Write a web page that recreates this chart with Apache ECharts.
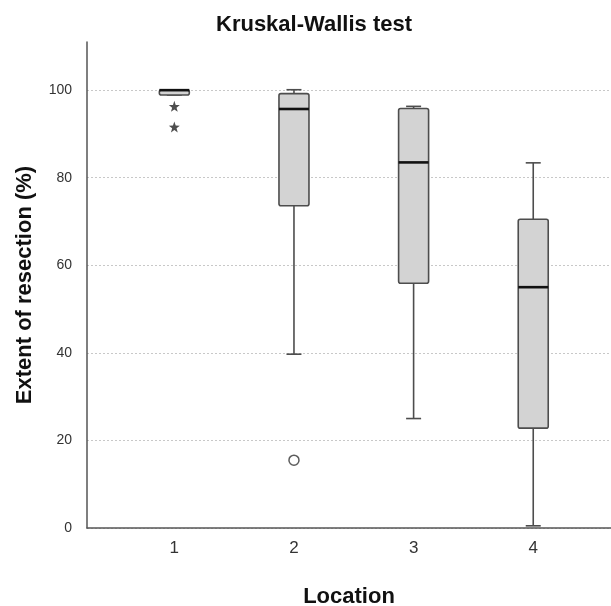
<!DOCTYPE html>
<html>
<head>
<meta charset="utf-8">
<script src="https://cdn.jsdelivr.net/npm/echarts@6/dist/echarts.min.js"></script>
<style>
  html, body { margin: 0; padding: 0; background: #fff; }
  #main { width: 611px; height: 606px; }
</style>
</head>
<body>
<div id="main"></div>
<script>
// box summary per location
const locations = [1, 2, 3, 4];
const whiskerLow = [98.9, 39.7, 25.0, 0.5];
const q1 = [98.9, 73.6, 55.9, 22.8];
const medians = [100, 95.7, 83.5, 55.0];
const q3 = [100, 99.2, 95.8, 70.5];
const whiskerHigh = [100, 100.1, 96.3, 83.4];

// outliers: circle = mild, star = extreme
const mildOutliers = [[2, 15.5]];
const extremeOutliers = [[1, 96.3], [1, 91.6]];

const yTicks = [0, 20, 40, 60, 80, 100];

const boxData = locations.map((loc, i) => [loc, whiskerLow[i], q1[i], medians[i], q3[i], whiskerHigh[i]]);

const starPath = 'path://M0,-10L2.35,-3.24L9.51,-3.09L3.8,1.24L5.88,8.09L0,4L-5.88,8.09L-3.8,1.24L-9.51,-3.09L-2.35,-3.24Z';

var chart = echarts.init(document.getElementById('main'));

function renderBox(params, api) {
    var x = api.value(0);
    var pLow = api.coord([x, api.value(1)]);
    var pQ1 = api.coord([x, api.value(2)]);
    var pMed = api.coord([x, api.value(3)]);
    var pQ3 = api.coord([x, api.value(4)]);
    var pHigh = api.coord([x, api.value(5)]);
    var half = 15, cap = 7.5;
    var lineStyle = { stroke: '#4d4d4d', lineWidth: 1.6, fill: null };
    return {
        type: 'group',
        children: [
            { type: 'line', shape: { x1: pLow[0], y1: pLow[1], x2: pQ1[0], y2: pQ1[1] }, style: lineStyle },
            { type: 'line', shape: { x1: pQ3[0], y1: pQ3[1], x2: pHigh[0], y2: pHigh[1] }, style: lineStyle },
            { type: 'line', shape: { x1: pLow[0] - cap, y1: pLow[1], x2: pLow[0] + cap, y2: pLow[1] }, style: lineStyle },
            { type: 'line', shape: { x1: pHigh[0] - cap, y1: pHigh[1], x2: pHigh[0] + cap, y2: pHigh[1] }, style: lineStyle },
            {
                type: 'rect',
                shape: { x: pQ3[0] - half, y: pQ3[1], width: half * 2, height: Math.max(pQ1[1] - pQ3[1], 1), r: 2 },
                style: { fill: '#d3d3d3', stroke: '#4d4d4d', lineWidth: 1.6 }
            },
            { type: 'line', shape: { x1: pMed[0] - half, y1: pMed[1], x2: pMed[0] + half, y2: pMed[1] }, style: { stroke: '#111', lineWidth: 2.6 } }
        ]
    };
}

var option = {
    animation: false,
    backgroundColor: '#fff',
    textStyle: { fontFamily: 'Liberation Sans, Arial, sans-serif' },
    title: {
        text: 'Kruskal-Wallis test',
        left: 309,
        textAlign: 'center',
        top: 9,
        textStyle: { fontSize: 22, fontWeight: 'bold', color: '#111', fontFamily: 'Liberation Sans, Arial, sans-serif' }
    },
    grid: { left: 87, right: 0, top: 42, bottom: 78, outerBoundsMode: 'none' },
    xAxis: {
        type: 'value',
        min: 0.27,
        max: 4.65,
        name: 'Location',
        nameLocation: 'middle',
        nameGap: 58,
        nameTextStyle: { fontSize: 22, fontWeight: 'bold', color: '#111' },
        axisLine: { show: true, onZero: false, lineStyle: { color: '#555', width: 1.5 } },
        axisTick: { show: false },
        splitLine: { show: false },
        axisLabel: { customValues: locations, fontSize: 17, color: '#333', margin: 12 }
    },
    yAxis: {
        type: 'value',
        min: 0,
        max: 111,
        name: 'Extent of resection (%)',
        nameLocation: 'middle',
        nameGap: 51,
        nameTextStyle: { fontSize: 22, fontWeight: 'bold', color: '#111' },
        axisLine: { show: true, lineStyle: { color: '#555', width: 1.5 } },
        axisTick: { show: false, customValues: yTicks },
        axisLabel: { customValues: yTicks, fontSize: 14, color: '#333', margin: 15 },
        splitLine: { show: true, lineStyle: { color: '#c8c8c8', type: [2, 2], width: 1 } }
    },
    series: [
        {
            type: 'custom',
            renderItem: renderBox,
            encode: { x: 0, y: [1, 2, 3, 4, 5] },
            data: boxData,
            z: 3
        },
        {
            type: 'scatter',
            data: mildOutliers,
            symbol: 'circle',
            symbolSize: 10,
            itemStyle: { color: '#fff', borderColor: '#333', borderWidth: 1.5 },
            z: 4
        },
        {
            type: 'scatter',
            data: extremeOutliers,
            symbol: starPath,
            symbolSize: 11,
            itemStyle: { color: '#222' },
            z: 4
        }
    ]
};

chart.setOption(option);
</script>
</body>
</html>
